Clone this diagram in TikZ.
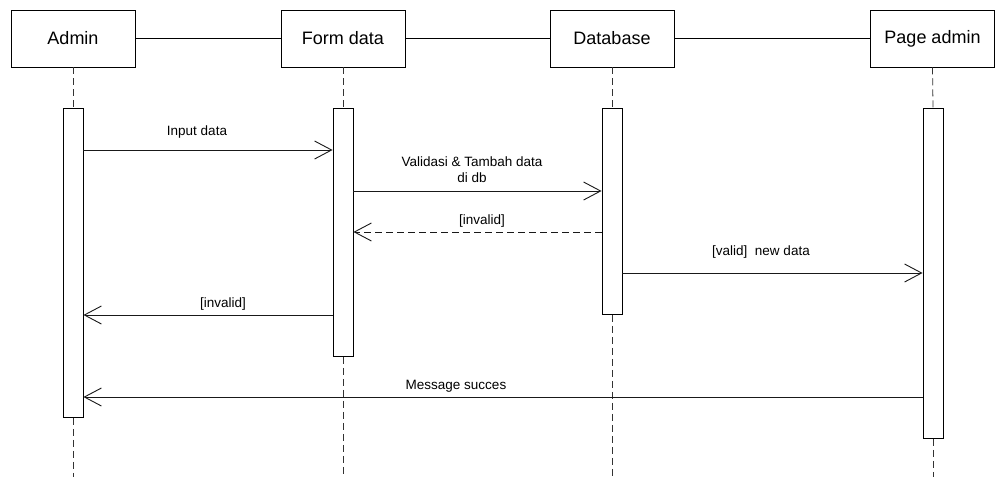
\documentclass[tikz,border=0pt]{standalone}
\usepackage{fontspec}
\setmainfont{Liberation Sans}
\usetikzlibrary{arrows.meta}
\begin{document}
\begin{tikzpicture}[x=1pt,y=-1pt,
  actor/.style={draw=black,line width=0.9pt,fill=white,minimum width=124pt,minimum height=57pt,inner sep=0pt,font=\fontsize{18}{20}\selectfont},
  bar/.style={draw=black,line width=0.9pt,fill=white,minimum width=20pt,inner sep=0pt},
  life/.style={draw=black!80,line width=0.8pt,dash pattern=on 7pt off 4pt},
  msg/.style={draw=black!90,line width=0.9pt,-{Straight Barb[length=17pt,width=18pt,line width=0.9pt]}},
  ret/.style={msg,dash pattern=on 7pt off 4pt},
  lbl/.style={font=\fontsize{13.5}{16}\selectfont,inner sep=0pt,align=center}]
\useasboundingbox (0,0) rectangle (998,477);
\fill[white] (0,0) rectangle (998,477);
% actor boxes
\node[actor] (A) at (73,38.5) {Admin};
\node[actor] (F) at (343,38.5) {Form data};
\node[actor] (D) at (612,38.5) {Database};
\node[actor] (P) at (932.5,38.5) {Page admin};
\draw[line width=0.9pt] (A.east) -- (F.west);
\draw[line width=0.9pt] (F.east) -- (D.west);
\draw[line width=0.9pt] (D.east) -- (P.west);
% bottom ends of lifelines
\coordinate (Ae) at (73,477);
\coordinate (Fe) at (343,477);
\coordinate (De) at (612,477);
\coordinate (Pe) at (933,477);
% activation bars
\node[bar,minimum height=309pt,anchor=north] (aA) at (73,108) {};
\node[bar,minimum height=248pt,anchor=north] (aF) at (343,108) {};
\node[bar,minimum height=206pt,anchor=north] (aD) at (612,108) {};
\node[bar,minimum height=330pt,anchor=north] (aP) at (933,108) {};
% lifelines
\draw[life] (A.south) -- (aA.north);
\draw[life] (aA.south) -- (Ae);
\draw[life] (F.south) -- (aF.north);
\draw[life] (aF.south) -- (Fe);
\draw[life] (D.south) -- (aD.north);
\draw[life] (aD.south) -- (De);
\draw[life] (P.south) -- (aP.north);
\draw[life] (aP.south) -- (Pe);
% messages
\draw[msg] (aA.east |- 0,150) -- (aF.west |- 0,150);
\node[lbl] at (197,132) {Input data};
\draw[msg] (aF.east |- 0,191) -- (aD.west |- 0,191);
\node[lbl] at (472,170) {Validasi \& Tambah data\\di db};
\draw[ret] (aD.west |- 0,232) -- (aF.east |- 0,232);
\node[lbl] at (482,221) {[invalid]};
\draw[msg] (aD.east |- 0,273) -- (aP.west |- 0,273);
\node[lbl] at (761,252) {[valid]\ \ new data};
\draw[msg] (aF.west |- 0,315) -- (aA.east |- 0,315);
\node[lbl] at (223,304) {[invalid]};
\draw[msg] (aP.west |- 0,397) -- (aA.east |- 0,397);
\node[lbl] at (456,386) {Message succes};
\end{tikzpicture}
\end{document}
